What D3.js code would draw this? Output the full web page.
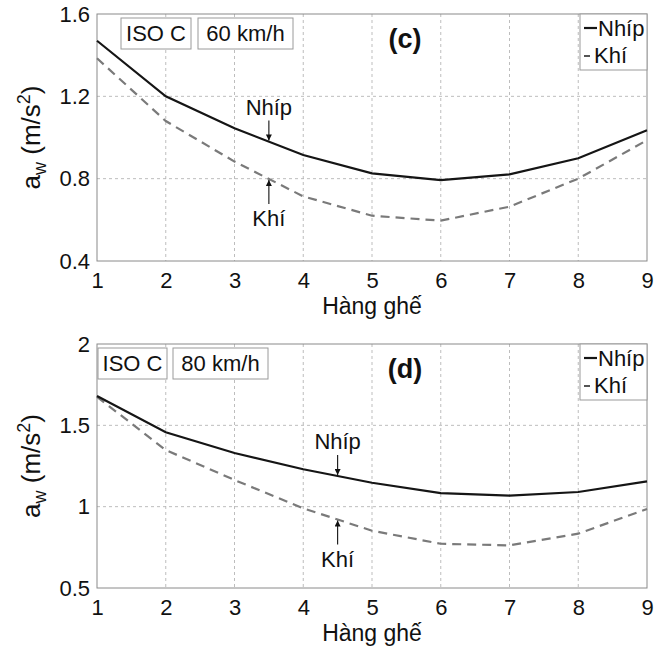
<!DOCTYPE html>
<html>
<head>
<meta charset="utf-8">
<script src="https://cdn.jsdelivr.net/npm/d3@7"></script>
<style>
  html, body { margin: 0; padding: 0; background: #fff; }
  svg { display: block; font-family: "Liberation Sans", Arial, Helvetica, sans-serif; }
</style>
</head>
<body>
<svg id="chart" width="668" height="647"></svg>
<script>
// ---- Data ----
const seats = [1, 2, 3, 4, 5, 6, 7, 8, 9];
const xTickLabels = ["1", "2", "3", "4", "5", "6", "7", "8", "9"];
// Panel (c): ISO C, 60 km/h
const cNhip = [1.47, 1.20, 1.045, 0.915, 0.826, 0.793, 0.821, 0.899, 1.035];
const cKhi  = [1.385, 1.08, 0.883, 0.714, 0.620, 0.596, 0.664, 0.800, 0.987];
const cYTicks = [0.4, 0.8, 1.2, 1.6];
const cYTickLabels = ["0.4", "0.8", "1.2", "1.6"];
// Panel (d): ISO C, 80 km/h
const dNhip = [1.68, 1.457, 1.33, 1.23, 1.147, 1.083, 1.068, 1.09, 1.155];
const dKhi  = [1.675, 1.348, 1.164, 0.99, 0.852, 0.772, 0.762, 0.834, 0.986];
const dYTicks = [0.5, 1, 1.5, 2];
const dYTickLabels = ["0.5", "1", "1.5", "2"];
const seriesNames = ["Nhíp", "Khí"];
const xTitle = "Hàng ghế";

// ---- Layout ----
const svg = d3.select("#chart");
const left = 97, right = 647;
const panels = [
  { top: 14, bottom: 261, nhip: cNhip, khi: cKhi, yTicks: cYTicks, yLabels: cYTickLabels,
    tag: "(c)", speed: "60 km/h", box1: [121, 191], box2: [198, 293], annX: 3.5 },
  { top: 344, bottom: 588, nhip: dNhip, khi: dKhi, yTicks: dYTicks, yLabels: dYTickLabels,
    tag: "(d)", speed: "80 km/h", box1: [98, 167], box2: [173, 268], annX: 4.5 }
];

const defs = svg.append("defs");
["down", "up"].forEach(id => {
  defs.append("marker")
    .attr("id", "arr-" + id)
    .attr("viewBox", "0 0 10 10")
    .attr("refX", 10).attr("refY", 5)
    .attr("markerWidth", 7).attr("markerHeight", 6)
    .attr("markerUnits", "userSpaceOnUse")
    .attr("orient", "auto")
    .append("path").attr("d", "M0,0 L10,5 L0,10 Z").attr("fill", "#111");
});

function interp(xs, ys, x) {
  for (let i = 0; i < xs.length - 1; i++) {
    if (x >= xs[i] && x <= xs[i + 1]) {
      const t = (x - xs[i]) / (xs[i + 1] - xs[i]);
      return ys[i] + t * (ys[i + 1] - ys[i]);
    }
  }
  return ys[ys.length - 1];
}

panels.forEach(p => {
  const x = d3.scaleLinear().domain([1, 9]).range([left, right]);
  const y = d3.scaleLinear().domain([p.yTicks[0], p.yTicks[p.yTicks.length - 1]]).range([p.bottom, p.top]);
  const g = svg.append("g");

  // grid
  g.append("g").selectAll("line").data(seats.slice(1, -1)).join("line")
    .attr("x1", d => x(d)).attr("x2", d => x(d))
    .attr("y1", p.top).attr("y2", p.bottom)
    .attr("stroke", "#b5b5b5").attr("stroke-width", 0.9).attr("stroke-dasharray", "3,3");
  g.append("g").selectAll("line").data(p.yTicks.slice(1, -1)).join("line")
    .attr("x1", left).attr("x2", right)
    .attr("y1", d => y(d)).attr("y2", d => y(d))
    .attr("stroke", "#b5b5b5").attr("stroke-width", 0.9).attr("stroke-dasharray", "3,3");

  // frame
  g.append("rect").attr("x", left).attr("y", p.top)
    .attr("width", right - left).attr("height", p.bottom - p.top)
    .attr("fill", "none").attr("stroke", "#8a8a8a").attr("stroke-width", 1);

  // axes (labels only)
  const xAxis = d3.axisBottom(x).tickValues(seats).tickFormat((d, i) => xTickLabels[i]).tickSize(0).tickPadding(0);
  const xg = g.append("g").attr("transform", `translate(0,${p.bottom})`).call(xAxis);
  xg.select(".domain").remove();
  xg.selectAll("text").attr("font-size", 22).attr("fill", "#111").attr("dy", null).attr("y", 27)
    .attr("font-family", "Liberation Sans, Arial, sans-serif");

  const yAxis = d3.axisLeft(y).tickValues(p.yTicks).tickFormat((d, i) => p.yLabels[i]).tickSize(0).tickPadding(7);
  const yg = g.append("g").attr("transform", `translate(${left},0)`).call(yAxis);
  yg.select(".domain").remove();
  yg.selectAll("text").attr("font-size", 22).attr("fill", "#111")
    .attr("font-family", "Liberation Sans, Arial, sans-serif");

  // x title
  g.append("text").attr("x", (left + right) / 2).attr("y", p.bottom + 53)
    .attr("text-anchor", "middle").attr("font-size", 23).attr("fill", "#111").text(xTitle);

  // y title
  const yt = g.append("text")
    .attr("transform", `translate(40,${(p.top + p.bottom) / 2}) rotate(-90)`)
    .attr("text-anchor", "middle").attr("font-size", 26).attr("fill", "#111");
  yt.append("tspan").text("a");
  yt.append("tspan").attr("font-size", 18).attr("dy", 6).text("w");
  yt.append("tspan").attr("dy", -6).text(" (m/s");
  yt.append("tspan").attr("font-size", 18).attr("dy", -10).text("2");
  yt.append("tspan").attr("dy", 10).text(")");

  // lines
  const line = d3.line().x((d, i) => x(seats[i])).y(d => y(d));
  g.append("path").datum(p.khi).attr("d", line)
    .attr("fill", "none").attr("stroke", "#7a7a7a").attr("stroke-width", 2.2)
    .attr("stroke-dasharray", "9,6");
  g.append("path").datum(p.nhip).attr("d", line)
    .attr("fill", "none").attr("stroke", "#151515").attr("stroke-width", 2.2);

  // info boxes
  [[p.box1, "ISO C"], [p.box2, p.speed]].forEach(([b, t]) => {
    g.append("rect").attr("x", b[0]).attr("y", p.top + 4).attr("width", b[1] - b[0]).attr("height", 31)
      .attr("fill", "#fff").attr("stroke", "#9a9a9a").attr("stroke-width", 1);
    g.append("text").attr("x", (b[0] + b[1]) / 2).attr("y", p.top + 27)
      .attr("text-anchor", "middle").attr("font-size", 22).attr("fill", "#111").text(t);
  });

  // panel tag
  g.append("text").attr("x", 405).attr("y", p.top + 34).attr("text-anchor", "middle")
    .attr("font-size", 27).attr("font-weight", "bold").attr("fill", "#111").text(p.tag);

  // legend
  const lx = 580;
  g.append("rect").attr("x", lx).attr("y", p.top).attr("width", right - lx).attr("height", 56)
    .attr("fill", "#fff").attr("stroke", "#9a9a9a").attr("stroke-width", 1);
  g.append("line").attr("x1", lx + 4).attr("x2", lx + 17).attr("y1", p.top + 14).attr("y2", p.top + 14)
    .attr("stroke", "#151515").attr("stroke-width", 2.2);
  g.append("text").attr("x", lx + 18).attr("y", p.top + 22).attr("font-size", 22).attr("fill", "#111").text(seriesNames[0]);
  g.append("line").attr("x1", lx + 4).attr("x2", lx + 10).attr("y1", p.top + 42).attr("y2", p.top + 42)
    .attr("stroke", "#555").attr("stroke-width", 2);
  g.append("text").attr("x", lx + 14).attr("y", p.top + 49).attr("font-size", 22).attr("fill", "#111").text(seriesNames[1]);

  // annotations
  const ax = x(p.annX);
  const yN = y(interp(seats, p.nhip, p.annX));
  const yK = y(interp(seats, p.khi, p.annX));
  g.append("line").attr("x1", ax).attr("x2", ax).attr("y1", yN - 21).attr("y2", yN - 1)
    .attr("stroke", "#111").attr("stroke-width", 1.1).attr("marker-end", "url(#arr-down)");
  g.append("text").attr("x", ax).attr("y", yN - 27).attr("text-anchor", "middle")
    .attr("font-size", 22).attr("fill", "#111").text(seriesNames[0]);
  g.append("line").attr("x1", ax).attr("x2", ax).attr("y1", yK + 25).attr("y2", yK + 1)
    .attr("stroke", "#111").attr("stroke-width", 1.1).attr("marker-end", "url(#arr-up)");
  g.append("text").attr("x", ax).attr("y", yK + 47).attr("text-anchor", "middle")
    .attr("font-size", 22).attr("fill", "#111").text(seriesNames[1]);
});
</script>
</body>
</html>
